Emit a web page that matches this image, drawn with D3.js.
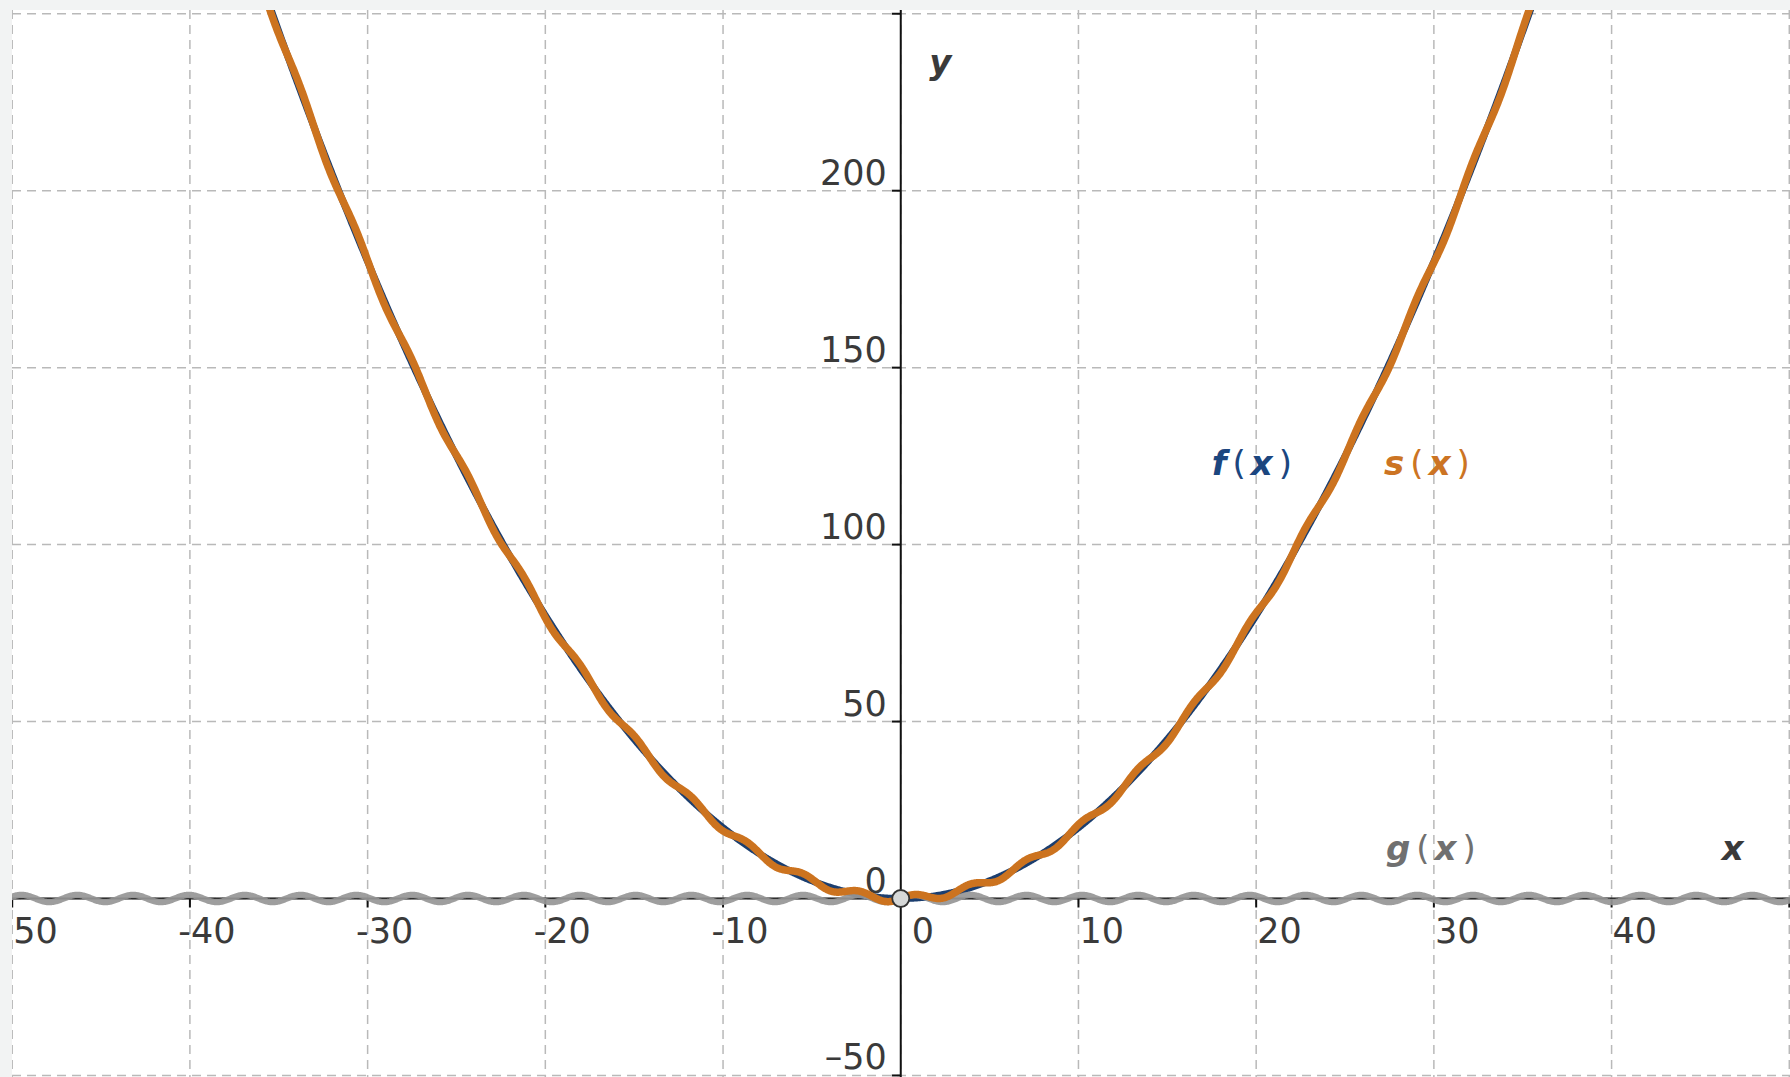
<!DOCTYPE html>
<html><head><meta charset="utf-8">
<script src="https://cdn.jsdelivr.net/npm/d3@7"></script>
<style>html,body{margin:0;padding:0;background:#f2f3f3;overflow:hidden}</style>
</head><body>
<svg id="c" width="1790" height="1077"></svg>
<script>
// ---- data ----
const xTicks = [-50, -40, -30, -20, -10, 0, 10, 20, 30, 40, 50];
const xTickLabels = ["-50", "-40", "-30", "-20", "-10", "0", "10", "20", "30", "40", ""];
const yTicks = [-50, 0, 50, 100, 150, 200, 250];
const yTickLabels = ["–50", "0", "50", "100", "150", "200", ""];
// function definitions: f(30)=180, g period π, amplitude 1
const fCoefficient = 0.2;       // f(x) = 0.2·x²
const gAmplitude = 1;           // g(x) = sin(2x)
const gFrequency = 2;
const functionNames = ["f", "g", "s"];
const pointOfInterest = [0, 0];

const f = x => fCoefficient * x * x;
const g = x => gAmplitude * Math.sin(gFrequency * x);
const s = x => f(x) + g(x);

// ---- layout ----
const W = 1790, H = 1077;
const plot = {left: 12, top: 10, right: 1790, bottom: 1077};
const x = d3.scaleLinear().domain([-50, 50]).range([12.2, 1789.3]);
const y = d3.scaleLinear().domain([0, 200]).range([898.5, 190.7]);

const svg = d3.select("#c");
svg.append("rect").attr("width", W).attr("height", H).attr("fill", "#f2f3f3");
svg.append("rect").attr("x", plot.left).attr("y", plot.top)
  .attr("width", plot.right - plot.left).attr("height", plot.bottom - plot.top).attr("fill", "#ffffff");
svg.append("clipPath").attr("id", "clip").append("rect")
  .attr("x", plot.left).attr("y", plot.top)
  .attr("width", plot.right - plot.left).attr("height", plot.bottom - plot.top);

const root = svg.append("g").attr("clip-path", "url(#clip)");

// grid
const grid = root.append("g").attr("stroke", "#b9b9b9").attr("stroke-width", 1.5)
  .attr("stroke-dasharray", "9,6").attr("fill", "none");
grid.selectAll("line.v").data(xTicks).join("line").attr("class", "v")
  .attr("x1", d => x(d)).attr("x2", d => x(d)).attr("y1", plot.top).attr("y2", plot.bottom);
grid.selectAll("line.h").data(yTicks).join("line").attr("class", "h")
  .attr("y1", d => y(d)).attr("y2", d => y(d)).attr("x1", plot.left).attr("x2", plot.right);

// axes
const axes = root.append("g").attr("stroke", "#111").attr("stroke-width", 2);
axes.append("line").attr("x1", plot.left).attr("x2", plot.right).attr("y1", y(0)).attr("y2", y(0));
axes.append("line").attr("x1", x(0)).attr("x2", x(0)).attr("y1", plot.top).attr("y2", plot.bottom);
axes.selectAll("line.xt").data(xTicks.filter(d => d !== 0)).join("line").attr("class", "xt")
  .attr("x1", d => x(d)).attr("x2", d => x(d)).attr("y1", y(0)).attr("y2", y(0) + 9);
axes.selectAll("line.yt").data(yTicks.filter(d => d !== 0)).join("line").attr("class", "yt")
  .attr("x1", x(0) - 9).attr("x2", x(0)).attr("y1", d => y(d)).attr("y2", d => y(d));

// tick labels
const tickFont = "'DejaVu Sans', sans-serif";
root.append("g").selectAll("text").data(xTicks.map((d, i) => [d, xTickLabels[i]]).filter(d => d[1] !== ""))
  .join("text")
  .attr("x", d => d[0] === 0 ? x(0) + 11 : x(d[0]) + 1)
  .attr("dx", d => d[0] < 0 ? -12.6 : 0)
  .attr("y", y(0) + 44.5)
  .attr("font-family", tickFont).attr("font-size", 35).attr("fill", "#3a3a3a")
  .text(d => d[1]);
root.append("g").selectAll("text").data(yTicks.map((d, i) => [d, yTickLabels[i]]).filter(d => d[1] !== ""))
  .join("text")
  .attr("x", x(0) - 14).attr("y", d => y(d[0]) - 6)
  .attr("text-anchor", "end")
  .attr("font-family", tickFont).attr("font-size", 35).attr("fill", "#3a3a3a")
  .text(d => d[1]);

// curves
const xs = d3.range(-52, 52.001, 0.04);
const line = fn => d3.line().x(d => x(d)).y(d => y(fn(d)))(xs);
root.append("path").attr("d", line(f)).attr("fill", "none")
  .attr("stroke", "#1b3e6f").attr("stroke-width", 7).attr("stroke-linejoin", "round");
root.append("path").attr("d", line(g)).attr("fill", "none")
  .attr("stroke", "#969696").attr("stroke-width", 6.5).attr("stroke-opacity", 0.92).attr("stroke-linejoin", "round");
root.append("path").attr("d", line(s)).attr("fill", "none")
  .attr("stroke", "#cc731f").attr("stroke-width", 7.5).attr("stroke-linejoin", "round");

// point at the origin
root.append("circle").attr("cx", x(pointOfInterest[0])).attr("cy", y(pointOfInterest[1])).attr("r", 8.5)
  .attr("fill", "#d6d8d8").attr("stroke", "#333").attr("stroke-width", 1.8);

// function labels
function fnLabel(name, vx, vy, color) {
  const t = root.append("text").attr("x", x(vx)).attr("y", y(vy))
    .attr("font-family", "'DejaVu Sans', sans-serif").attr("font-size", 34).attr("fill", color);
  t.append("tspan").attr("font-weight", "bold").attr("font-style", "italic").text(name);
  t.append("tspan").attr("dx", 6).text("(");
  t.append("tspan").attr("dx", 5).attr("font-weight", "bold").attr("font-style", "italic").text("x");
  t.append("tspan").attr("dx", 6).text(")");
}
fnLabel(functionNames[0], 17.5, 119.7, "#1b467f");
fnLabel(functionNames[2], 27.2, 119.7, "#cc7423");
fnLabel(functionNames[1], 27.3, 10.9, "#707070");

// axis names
root.append("text").attr("x", x(46.2)).attr("y", y(10.9))
  .attr("font-family", "'DejaVu Sans', sans-serif").attr("font-size", 34)
  .attr("font-weight", "bold").attr("font-style", "italic").attr("fill", "#3a3a3a").text("x");
root.append("text").attr("x", x(1.6)).attr("y", y(233))
  .attr("font-family", "'DejaVu Sans', sans-serif").attr("font-size", 34)
  .attr("font-weight", "bold").attr("font-style", "italic").attr("fill", "#3a3a3a").text("y");
</script>
</body></html>
